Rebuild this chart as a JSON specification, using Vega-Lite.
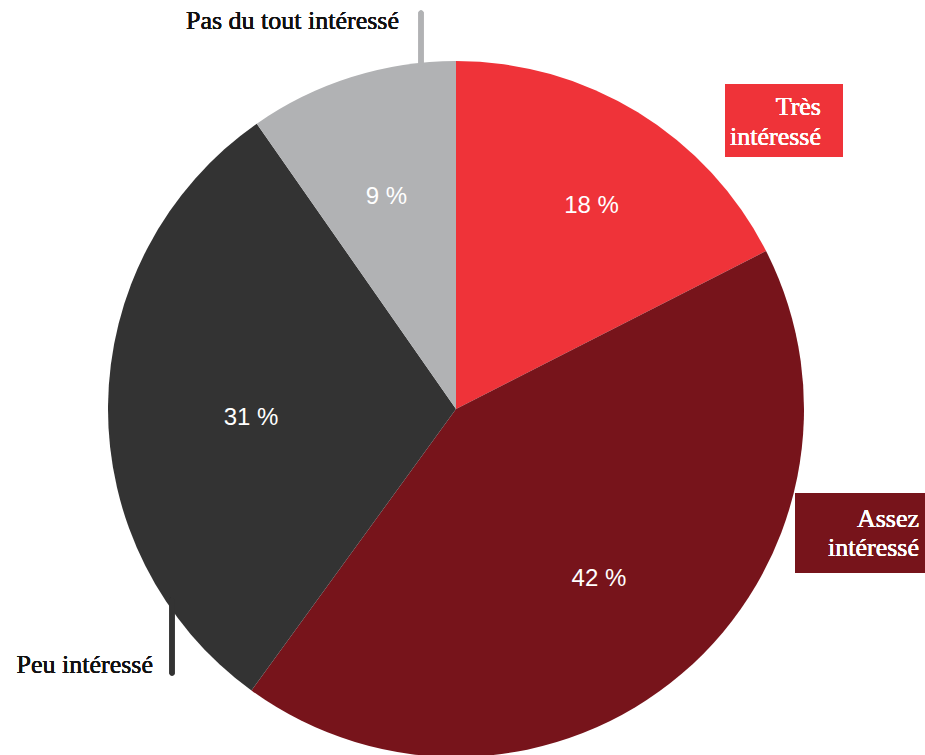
{
  "$schema": "https://vega.github.io/schema/vega-lite/v6.json",
  "width": 925,
  "height": 755,
  "autosize": {"type": "none"},
  "padding": 0,
  "background": "#ffffff",
  "config": {"view": {"stroke": null}},
  "data": {
    "values": [
      {"cat": "Très intéressé", "k": 1, "value": 17.5, "pct": "18 %"},
      {"cat": "Assez intéressé", "k": 2, "value": 42.5, "pct": "42 %"},
      {"cat": "Peu intéressé", "k": 3, "value": 30.3, "pct": "31 %"},
      {"cat": "Pas du tout intéressé", "k": 4, "value": 9.7, "pct": "9 %"}
    ]
  },
  "layer": [
    {
      "mark": {"type": "arc", "outerRadius": 348, "x": 456, "y": 409},
      "encoding": {
        "theta": {"field": "value", "type": "quantitative", "stack": true},
        "order": {"field": "k", "type": "quantitative"},
        "color": {
          "field": "cat",
          "type": "nominal",
          "legend": null,
          "scale": {
            "domain": ["Très intéressé", "Assez intéressé", "Peu intéressé", "Pas du tout intéressé"],
            "range": ["#ef3339", "#77141b", "#333333", "#b1b2b4"]
          }
        }
      }
    },
    {
      "mark": {"type": "text", "radius": 244, "x": 456, "y": 409, "dx": 8, "dy": 5, "font": "Liberation Sans", "fontWeight": "normal", "fontSize": 24, "color": "#ffffff", "align": "center", "baseline": "middle"},
      "encoding": {
        "theta": {"field": "value", "type": "quantitative", "stack": true},
        "order": {"field": "k", "type": "quantitative"},
        "text": {"condition": {"test": "datum.k == 1", "field": "pct"}, "value": ""}
      }
    },
    {
      "mark": {"type": "text", "radius": 220, "x": 456, "y": 409, "dy": 3, "font": "Liberation Sans", "fontWeight": "normal", "fontSize": 24, "color": "#ffffff", "align": "center", "baseline": "middle"},
      "encoding": {
        "theta": {"field": "value", "type": "quantitative", "stack": true},
        "order": {"field": "k", "type": "quantitative"},
        "text": {"condition": {"test": "datum.k == 2", "field": "pct"}, "value": ""}
      }
    },
    {
      "mark": {"type": "text", "radius": 205, "x": 456, "y": 409, "dy": 11, "font": "Liberation Sans", "fontWeight": "normal", "fontSize": 24, "color": "#ffffff", "align": "center", "baseline": "middle"},
      "encoding": {
        "theta": {"field": "value", "type": "quantitative", "stack": true},
        "order": {"field": "k", "type": "quantitative"},
        "text": {"condition": {"test": "datum.k == 3", "field": "pct"}, "value": ""}
      }
    },
    {
      "mark": {"type": "text", "radius": 225, "x": 456, "y": 409, "dx": -2, "dy": 3, "font": "Liberation Sans", "fontWeight": "normal", "fontSize": 24, "color": "#ffffff", "align": "center", "baseline": "middle"},
      "encoding": {
        "theta": {"field": "value", "type": "quantitative", "stack": true},
        "order": {"field": "k", "type": "quantitative"},
        "text": {"condition": {"test": "datum.k == 4", "field": "pct"}, "value": ""}
      }
    },
    {
      "mark": {"type": "rect", "x": 725, "x2": 843, "y": 84, "y2": 157, "color": "#ef3339"},
      "encoding": {}
    },
    {
      "mark": {"type": "rect", "x": 795, "x2": 925, "y": 493, "y2": 573, "color": "#77141b"},
      "encoding": {}
    },
    {
      "mark": {"type": "rule", "color": "#b1b2b4", "strokeWidth": 5, "strokeCap": "round"},
      "encoding": {"x": {"value": 421}, "y": {"value": 13}, "y2": {"value": 64}}
    },
    {
      "mark": {"type": "rule", "color": "#333333", "strokeWidth": 5, "strokeCap": "round"},
      "encoding": {"x": {"value": 172}, "y": {"value": 600}, "y2": {"value": 673}}
    },
    {
      "mark": {"type": "text", "x": 821, "y": 115, "align": "right", "baseline": "alphabetic", "font": "Liberation Serif", "fontWeight": 400, "fontSize": 26, "lineHeight": 30, "color": "#ffffff", "text": ["Très", "intéressé"]},
      "encoding": {}
    },
    {
      "mark": {"type": "text", "x": 919, "y": 527, "align": "right", "baseline": "alphabetic", "font": "Liberation Serif", "fontWeight": 400, "fontSize": 26, "lineHeight": 29, "color": "#ffffff", "text": ["Assez", "intéressé"]},
      "encoding": {}
    },
    {
      "mark": {"type": "text", "x": 399, "y": 29, "align": "right", "baseline": "alphabetic", "font": "Liberation Serif", "fontWeight": 400, "fontSize": 26, "color": "#111111", "text": "Pas du tout intéressé"},
      "encoding": {}
    },
    {
      "mark": {"type": "text", "x": 153, "y": 673, "align": "right", "baseline": "alphabetic", "font": "Liberation Serif", "fontWeight": 400, "fontSize": 26, "color": "#111111", "text": "Peu intéressé"},
      "encoding": {}
    }
  ]
}
